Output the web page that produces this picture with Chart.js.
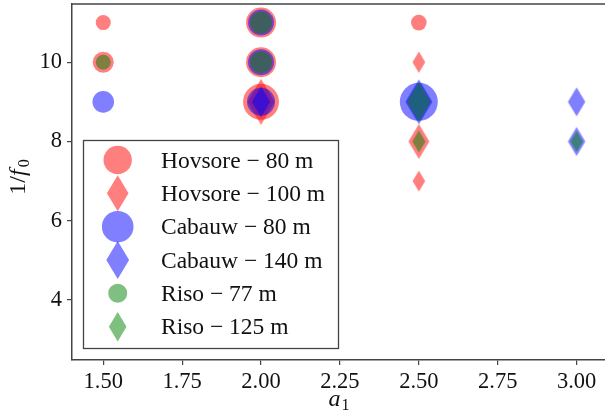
<!DOCTYPE html>
<html>
<head>
<meta charset="utf-8">
<script src="https://cdn.jsdelivr.net/npm/chart.js@4/dist/chart.umd.min.js"></script>
<style>
html,body{margin:0;padding:0;background:#fff;}
canvas{display:block;}
</style>
</head>
<body>
<canvas id="c" width="605" height="416"></canvas>
<script>
// ---- data ----
const seriesNames = ["Hovsore \u2212 80 m", "Hovsore \u2212 100 m", "Cabauw \u2212 80 m", "Cabauw \u2212 140 m", "Riso \u2212 77 m", "Riso \u2212 125 m"];
const xTicks = [1.5, 1.75, 2.0, 2.25, 2.5, 2.75, 3.0];
const yTicks = [4, 6, 8, 10];

const hovsore80X = [1.5, 1.5, 2.0, 2.0, 2.0, 2.5];
const hovsore80Y = [11, 10, 11, 10, 9, 11];
const hovsore80S = [7.5, 10.5, 15, 15, 18, 7.8];

const hovsore100X = [2.0, 2.5, 2.5, 2.5];
const hovsore100Y = [9, 10, 8, 7];
const hovsore100S = [23, 10.7, 17.5, 10.5];

const cabauw80X = [1.5, 2.0, 2.0, 2.0, 2.5];
const cabauw80Y = [9, 11, 10, 9, 9];
const cabauw80S = [10.8, 13, 13, 14, 19];

const cabauw140X = [2.0, 2.5, 3.0, 3.0];
const cabauw140Y = [9, 9, 9, 8];
const cabauw140S = [15.5, 22.5, 14.5, 14.5];

const riso77X = [1.5, 2.0, 2.0];
const riso77Y = [10, 11, 10];
const riso77S = [7.5, 11, 11];

const riso125X = [2.5, 2.5, 3.0];
const riso125Y = [9, 8, 8];
const riso125S = [20, 11, 10.5];

// ---- styles ----
const RED = "rgba(255,0,0,0.5)";
const BLUE = "rgba(0,0,255,0.5)";
const GREEN = "rgba(0,128,0,0.5)";
const FONT = "'Liberation Serif', 'Times New Roman', serif";

const diamondCache = {};
function diamond(h, color) {
  const key = h + "|" + color;
  if (diamondCache[key]) return diamondCache[key];
  const w = 0.6 * h;
  const cw = 2 * Math.ceil(w + 1), ch = 2 * Math.ceil(h + 1);
  const cv = document.createElement("canvas");
  cv.width = cw; cv.height = ch;
  const g = cv.getContext("2d");
  g.fillStyle = color;
  g.beginPath();
  g.moveTo(cw / 2, ch / 2 - h);
  g.lineTo(cw / 2 + w, ch / 2);
  g.lineTo(cw / 2, ch / 2 + h);
  g.lineTo(cw / 2 - w, ch / 2);
  g.closePath();
  g.fill();
  diamondCache[key] = cv;
  return cv;
}

function pts(xs, ys, ss) { return xs.map((x, i) => ({ x: x, y: ys[i], r: ss[i] })); }

function circleSet(label, xs, ys, ss, color, order) {
  return { label, data: pts(xs, ys, ss), backgroundColor: color, borderWidth: 0, pointStyle: "circle", order };
}
function diamondSet(label, xs, ys, ss, color, order) {
  return {
    label, data: pts(xs, ys, ss), backgroundColor: color, borderWidth: 0, order,
    pointStyle: (ctx) => diamond(ctx.raw ? ctx.raw.r : 10, color)
  };
}

const datasets = [
  circleSet(seriesNames[0], hovsore80X, hovsore80Y, hovsore80S, RED, 6),
  diamondSet(seriesNames[1], hovsore100X, hovsore100Y, hovsore100S, RED, 5),
  circleSet(seriesNames[2], cabauw80X, cabauw80Y, cabauw80S, BLUE, 4),
  diamondSet(seriesNames[3], cabauw140X, cabauw140Y, cabauw140S, BLUE, 3),
  circleSet(seriesNames[4], riso77X, riso77Y, riso77S, GREEN, 2),
  diamondSet(seriesNames[5], riso125X, riso125Y, riso125S, GREEN, 1)
];

// legend marker specs (type, size, color)
const legendMarkers = [["c", 14.2, RED], ["d", 18, RED], ["c", 15.8, BLUE], ["d", 19, BLUE], ["c", 9.5, GREEN], ["d", 14.7, GREEN]];

const decor = {
  id: "decor",
  afterDraw(chart) {
    const ctx = chart.ctx, a = chart.chartArea;
    ctx.save();
    // top spine
    ctx.strokeStyle = "#444"; ctx.lineWidth = 1.5;
    ctx.beginPath(); ctx.moveTo(a.left - 0.75, a.top); ctx.lineTo(a.right, a.top); ctx.stroke();

    // legend
    const lx = 83.5, ly = 140.5, lw = 255, lh = 208;
    ctx.fillStyle = "#fff"; ctx.fillRect(lx, ly, lw, lh);
    ctx.strokeStyle = "#444"; ctx.lineWidth = 1.3; ctx.strokeRect(lx, ly, lw, lh);
    const rows = [160, 193.3, 226.7, 260, 293.3, 326.7];
    legendMarkers.forEach((m, i) => {
      const cx = 117.7, cy = rows[i];
      ctx.fillStyle = m[2];
      ctx.beginPath();
      if (m[0] === "c") { ctx.arc(cx, cy, m[1], 0, Math.PI * 2); }
      else {
        const h = m[1], w = 0.6 * h;
        ctx.moveTo(cx, cy - h); ctx.lineTo(cx + w, cy); ctx.lineTo(cx, cy + h); ctx.lineTo(cx - w, cy); ctx.closePath();
      }
      ctx.fill();
      ctx.fillStyle = "#111";
      ctx.font = "23.5px " + FONT;
      ctx.textAlign = "left"; ctx.textBaseline = "alphabetic";
      ctx.fillText(seriesNames[i], 161, cy + 7.5);
    });

    // x title a_1
    ctx.fillStyle = "#111";
    ctx.font = "italic 24px " + FONT;
    const wa = ctx.measureText("a").width;
    ctx.font = "16px " + FONT;
    const w1 = ctx.measureText("1").width;
    const xc = (a.left + a.right) / 2;
    const x0 = xc - (wa + w1) / 2;
    ctx.textAlign = "left"; ctx.textBaseline = "alphabetic";
    ctx.font = "italic 24px " + FONT; ctx.fillText("a", x0, 406);
    ctx.font = "16px " + FONT; ctx.fillText("1", x0 + wa + 1, 410);

    // y title 1/f_0
    ctx.translate(25, 177);
    ctx.rotate(-Math.PI / 2);
    ctx.font = "24px " + FONT; const wA = ctx.measureText("1/").width;
    ctx.font = "italic 24px " + FONT; const wF = ctx.measureText("f").width;
    ctx.font = "16px " + FONT; const w0 = ctx.measureText("0").width;
    let s = -(wA + wF + w0 + 2) / 2;
    ctx.font = "24px " + FONT; ctx.fillText("1/", s, 0); s += wA;
    ctx.font = "italic 24px " + FONT; ctx.fillText("f", s, 0); s += wF + 2;
    ctx.font = "16px " + FONT; ctx.fillText("0", s, 4);
    ctx.restore();
  }
};

Chart.defaults.font.family = FONT;
Chart.defaults.font.size = 22;
Chart.defaults.color = "#111";

new Chart(document.getElementById("c"), {
  type: "bubble",
  data: { datasets },
  options: {
    responsive: false,
    animation: false,
    events: [],
    layout: { autoPadding: false, padding: { top: 4, left: 0, right: 0, bottom: 0 } },
    plugins: { legend: { display: false }, tooltip: { enabled: false } },
    scales: {
      x: {
        type: "linear", min: 1.401, max: 3.09,
        afterBuildTicks: (sc) => { sc.ticks = xTicks.map(v => ({ value: v })); },
        afterFit: (sc) => { sc.height = 56; sc.paddingLeft = 0; sc.paddingRight = 0; },
        ticks: { callback: (v) => Number(v).toFixed(2), padding: 4, maxRotation: 0, autoSkip: false, color: "#111", font: { size: 22.5 } },
        grid: { drawOnChartArea: false, drawTicks: true, tickLength: 5, color: "#444", lineWidth: 1.2 },
        border: { display: true, color: "#444", width: 1.5 }
      },
      y: {
        type: "linear", min: 2.485, max: 11.47,
        afterBuildTicks: (sc) => { sc.ticks = yTicks.map(v => ({ value: v })); },
        afterFit: (sc) => { sc.width = 72; sc.paddingTop = 0; sc.paddingBottom = 0; },
        ticks: { callback: (v) => String(v), padding: 5, autoSkip: false, color: "#111", font: { size: 22.5 } },
        grid: { drawOnChartArea: false, drawTicks: true, tickLength: 5, color: "#444", lineWidth: 1.2 },
        border: { display: true, color: "#444", width: 1.5 }
      }
    }
  },
  plugins: [decor]
});
</script>
</body>
</html>
